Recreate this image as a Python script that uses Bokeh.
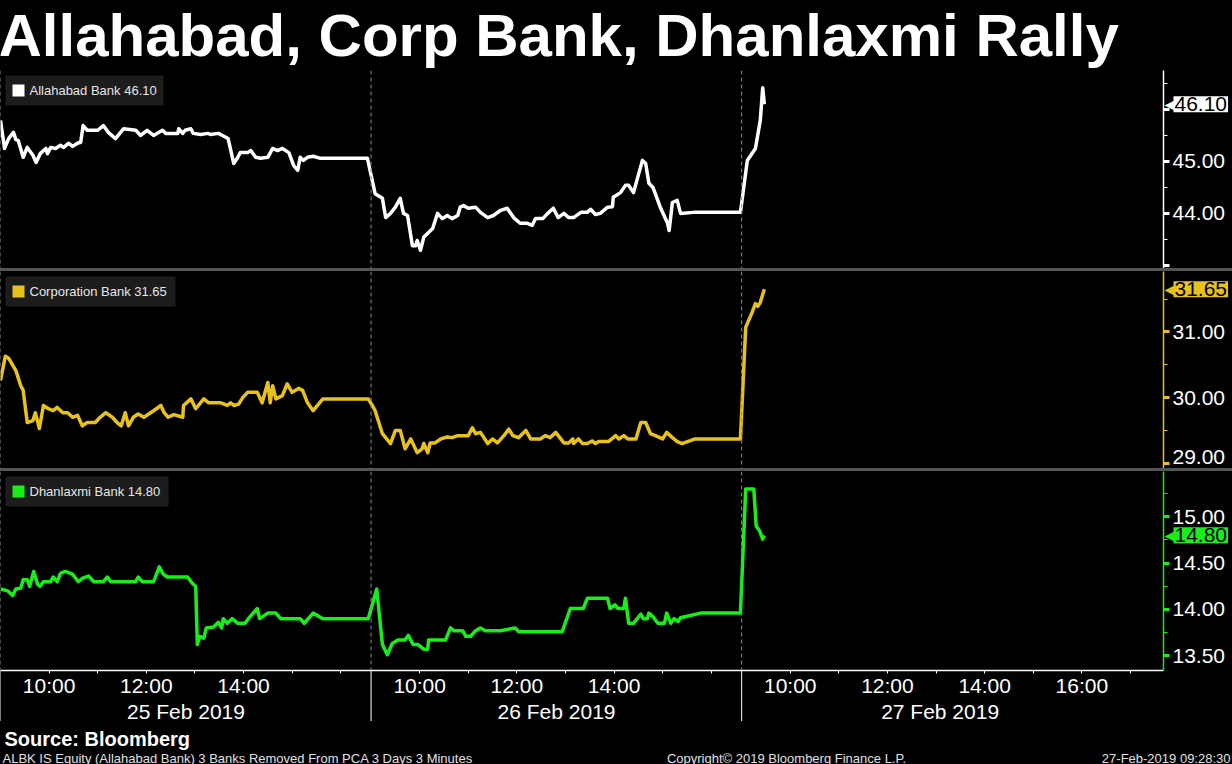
from bokeh.plotting import figure
from bokeh.models import (Range1d, LinearAxis, FixedTicker, PrintfTickFormatter, Span,
                          Label, BoxAnnotation, GridBox, Spacer)
from bokeh.embed import file_html
from bokeh.resources import INLINE

TITLE = "Allahabad, Corp Bank, Dhanlaxmi Rally"
SOURCE = "Source: Bloomberg"
FOOTNOTE = "ALBK IS Equity (Allahabad Bank) 3 Banks Removed From PCA 3 Days 3 Minutes"
COPYRIGHT = "Copyright\u00a9 2019 Bloomberg Finance L.P."
STAMP = "27-Feb-2019 09:28:30"

DAY_NUMS = [25, 26, 27]
DATE_LABELS = ["25 Feb 2019", "26 Feb 2019", "27 Feb 2019"]
DATE_LABEL_AT = ["12:49", "12:49", "13:05"]
LABELED_HOURS = [["10:00", "12:00", "14:00"], ["10:00", "12:00", "14:00"],
                 ["10:00", "12:00", "14:00", "16:00"]]

NAMES = ["Allahabad Bank", "Corporation Bank", "Dhanlaxmi Bank"]
LAST = [46.10, 31.65, 14.80]
COLORS = ["#ffffff", "#e8c21c", "#1aee1a"]

ALBK_TIMES = [
    "25 09:00", "25 09:05", "25 09:10", "25 09:16", "25 09:19", "25 09:22", "25 09:28", "25 09:33",
    "25 09:40", "25 09:44", "25 09:49", "25 09:56", "25 09:58", "25 10:02", "25 10:08", "25 10:14",
    "25 10:18", "25 10:24", "25 10:29", "25 10:35", "25 10:39", "25 10:42", "25 10:47", "25 11:00",
    "25 11:07", "25 11:13", "25 11:22", "25 11:32", "25 11:47", "25 11:53", "25 12:01", "25 12:09",
    "25 12:20", "25 12:24", "25 12:39", "25 12:40", "25 12:45", "25 12:48", "25 12:55", "25 12:58",
    "25 13:07", "25 13:16", "25 13:19", "25 13:29", "25 13:34", "25 13:41", "25 13:48", "25 13:53",
    "25 13:56", "25 14:05", "25 14:09", "25 14:15", "25 14:21", "25 14:30", "25 14:36", "25 14:42",
    "25 14:48", "25 14:56", "25 15:02", "25 15:07", "25 15:10", "25 15:14", "25 15:19", "25 15:26",
    "25 15:35", "25 16:33",
    "26 09:05", "26 09:14", "26 09:18", "26 09:24", "26 09:30", "26 09:36", "26 09:40", "26 09:45",
    "26 09:51", "26 09:55", "26 09:57", "26 10:01", "26 10:05", "26 10:10", "26 10:16", "26 10:22",
    "26 10:28", "26 10:34", "26 10:40", "26 10:47", "26 10:50", "26 10:54", "26 11:00", "26 11:09",
    "26 11:15", "26 11:24", "26 11:31", "26 11:40", "26 11:48", "26 11:56", "26 12:04", "26 12:13",
    "26 12:19", "26 12:23", "26 12:32", "26 12:38", "26 12:45", "26 12:51", "26 12:58", "26 13:04",
    "26 13:10", "26 13:19", "26 13:27", "26 13:31", "26 13:37", "26 13:43", "26 13:52", "26 13:58",
    "26 13:59", "26 14:08", "26 14:14", "26 14:18", "26 14:24", "26 14:35", "26 14:39", "26 14:43",
    "26 14:48", "26 14:57", "26 15:06", "26 15:08", "26 15:12", "26 15:18", "26 15:22", "26 15:38",
    "26 16:36",
    "27 09:07", "27 09:17", "27 09:23", "27 09:26", "27 09:28",
]
ALBK_PRICES = [
    45.79, 45.25, 45.44, 45.56, 45.42, 45.40, 45.08, 45.27,
    45.12, 44.98, 45.15, 45.25, 45.15, 45.27, 45.25, 45.31,
    45.27, 45.35, 45.29, 45.35, 45.37, 45.69, 45.60, 45.60,
    45.69, 45.56, 45.44, 45.63, 45.60, 45.50, 45.60, 45.50,
    45.60, 45.54, 45.54, 45.63, 45.54, 45.60, 45.63, 45.54,
    45.52, 45.54, 45.52, 45.54, 45.50, 45.44, 44.96, 45.08,
    45.17, 45.17, 45.21, 45.08, 45.06, 45.08, 45.25, 45.21,
    45.25, 45.17, 44.92, 44.83, 45.08, 45.02, 45.08, 45.10,
    45.06, 45.06,
    44.38, 44.29, 43.92, 44.00, 44.12, 44.29, 44.00, 43.96,
    43.38, 43.38, 43.48, 43.29, 43.54, 43.62, 43.71, 44.00,
    43.90, 43.96, 43.90, 43.96, 44.12, 44.15, 44.10, 44.12,
    44.02, 43.92, 43.96, 44.06, 44.10, 43.92, 43.81, 43.81,
    43.77, 43.90, 43.90, 44.00, 44.10, 43.92, 44.00, 43.92,
    43.92, 44.02, 44.02, 44.08, 43.98, 44.00, 44.12, 44.13,
    44.31, 44.40, 44.54, 44.54, 44.40, 45.02, 44.96, 44.58,
    44.50, 44.12, 43.81, 43.67, 44.21, 44.25, 44.00, 44.02,
    44.02,
    45.02, 45.25, 45.79, 46.42, 46.10,
]

CORP_TIMES = [
    "25 09:00", "25 09:06", "25 09:10", "25 09:19", "25 09:25", "25 09:28", "25 09:33", "25 09:40",
    "25 09:43", "25 09:48", "25 09:53", "25 09:59", "25 10:05", "25 10:10", "25 10:17", "25 10:23",
    "25 10:29", "25 10:35", "25 10:41", "25 10:47", "25 10:57", "25 11:03", "25 11:10", "25 11:18",
    "25 11:24", "25 11:29", "25 11:34", "25 11:38", "25 11:44", "25 11:50", "25 11:57", "25 12:03",
    "25 12:09", "25 12:18", "25 12:22", "25 12:27", "25 12:34", "25 12:45", "25 12:46", "25 12:55",
    "25 13:01", "25 13:11", "25 13:17", "25 13:32", "25 13:40", "25 13:44", "25 13:48", "25 13:54",
    "25 13:59", "25 14:05", "25 14:17", "25 14:23", "25 14:30", "25 14:33", "25 14:36", "25 14:40",
    "25 14:48", "25 14:54", "25 15:00", "25 15:08", "25 15:13", "25 15:19", "25 15:26", "25 15:38",
    "25 16:34",
    "26 09:03", "26 09:05", "26 09:14", "26 09:24", "26 09:30", "26 09:36", "26 09:42", "26 09:49",
    "26 09:57", "26 10:03", "26 10:05", "26 10:10", "26 10:13", "26 10:19", "26 10:26", "26 10:34",
    "26 10:40", "26 10:47", "26 11:00", "26 11:05", "26 11:09", "26 11:15", "26 11:24", "26 11:30",
    "26 11:36", "26 11:44", "26 11:50", "26 11:55", "26 12:02", "26 12:11", "26 12:17", "26 12:29",
    "26 12:35", "26 12:41", "26 12:48", "26 12:58", "26 13:04", "26 13:09", "26 13:10", "26 13:16",
    "26 13:21", "26 13:27", "26 13:33", "26 13:37", "26 13:41", "26 13:53", "26 14:02", "26 14:06",
    "26 14:12", "26 14:17", "26 14:27", "26 14:33", "26 14:39", "26 14:45", "26 14:51", "26 15:00",
    "26 15:05", "26 15:12", "26 15:18", "26 15:24", "26 15:40", "26 16:36",
    "27 09:05", "27 09:13", "27 09:17", "27 09:20", "27 09:23", "27 09:28",
]
CORP_PRICES = [
    30.26, 30.63, 30.60, 30.41, 30.18, 30.11, 29.62, 29.65,
    29.77, 29.53, 29.88, 29.83, 29.80, 29.85, 29.77, 29.77,
    29.70, 29.73, 29.57, 29.62, 29.62, 29.70, 29.77, 29.70,
    29.62, 29.57, 29.77, 29.57, 29.70, 29.75, 29.70, 29.75,
    29.80, 29.88, 29.77, 29.70, 29.74, 29.70, 29.88, 29.98,
    29.83, 29.98, 29.92, 29.92, 29.88, 29.92, 29.88, 29.90,
    30.00, 30.08, 30.08, 29.92, 30.23, 29.92, 30.18, 29.98,
    30.03, 30.21, 30.08, 30.14, 30.11, 29.92, 29.80, 29.98,
    29.98,
    29.85, 29.80, 29.45, 29.30, 29.50, 29.50, 29.22, 29.37,
    29.16, 29.22, 29.30, 29.16, 29.31, 29.31, 29.37, 29.40,
    29.39, 29.42, 29.42, 29.54, 29.45, 29.47, 29.30, 29.37,
    29.31, 29.42, 29.52, 29.42, 29.39, 29.50, 29.37, 29.37,
    29.42, 29.39, 29.47, 29.31, 29.31, 29.37, 29.30, 29.37,
    29.30, 29.30, 29.34, 29.30, 29.33, 29.33, 29.42, 29.37,
    29.42, 29.37, 29.37, 29.62, 29.62, 29.45, 29.42, 29.37,
    29.47, 29.39, 29.33, 29.30, 29.37, 29.37,
    31.07, 31.30, 31.43, 31.39, 31.45, 31.65,
]

DHAN_TIMES = [
    "25 09:00", "25 09:09", "25 09:15", "25 09:19", "25 09:25", "25 09:28", "25 09:33", "25 09:36",
    "25 09:41", "25 09:46", "25 09:49", "25 09:53", "25 10:02", "25 10:05", "25 10:10", "25 10:14",
    "25 10:20", "25 10:29", "25 10:36", "25 10:42", "25 10:49", "25 10:55", "25 11:07", "25 11:12",
    "25 11:16", "25 11:47", "25 11:50", "25 11:55", "25 12:09", "25 12:14", "25 12:16", "25 12:21",
    "25 12:26", "25 12:51", "25 12:57", "25 13:01", "25 13:03", "25 13:06", "25 13:11", "25 13:14",
    "25 13:23", "25 13:29", "25 13:33", "25 13:35", "25 13:40", "25 13:46", "25 13:53", "25 14:02",
    "25 14:06", "25 14:12", "25 14:17", "25 14:20", "25 14:30", "25 14:40", "25 14:46", "25 15:10",
    "25 15:15", "25 15:20", "25 15:26", "25 15:38", "25 16:34",
    "26 09:07", "26 09:14", "26 09:20", "26 09:26", "26 09:33", "26 09:42", "26 09:46", "26 09:52",
    "26 09:58", "26 10:05", "26 10:10", "26 10:11", "26 10:32", "26 10:38", "26 10:42", "26 10:53",
    "26 10:57", "26 11:03", "26 11:09", "26 11:15", "26 11:21", "26 11:40", "26 11:58", "26 12:02",
    "26 12:56", "26 13:06", "26 13:22", "26 13:27", "26 13:52", "26 13:55", "26 14:01", "26 14:05",
    "26 14:12", "26 14:14", "26 14:18", "26 14:24", "26 14:33", "26 14:36", "26 14:41", "26 14:43",
    "26 14:48", "26 14:54", "26 15:02", "26 15:05", "26 15:10", "26 15:14", "26 15:19", "26 15:22",
    "26 15:47", "26 16:36",
    "27 09:05", "27 09:15", "27 09:18", "27 09:22", "27 09:26", "27 09:28",
]
DHAN_PRICES = [
    14.22, 14.20, 14.15, 14.22, 14.23, 14.32, 14.32, 14.25,
    14.41, 14.27, 14.25, 14.30, 14.30, 14.35, 14.30, 14.39,
    14.41, 14.38, 14.30, 14.34, 14.36, 14.30, 14.30, 14.35,
    14.30, 14.30, 14.35, 14.30, 14.30, 14.41, 14.46, 14.38,
    14.35, 14.35, 14.28, 14.25, 13.62, 13.71, 13.69, 13.80,
    13.81, 13.86, 13.80, 13.90, 13.85, 13.90, 13.85, 13.85,
    13.90, 13.96, 14.01, 13.90, 13.96, 13.96, 13.90, 13.90,
    13.85, 13.90, 13.96, 13.90, 13.90,
    14.22, 13.62, 13.51, 13.63, 13.67, 13.67, 13.72, 13.62,
    13.62, 13.57, 13.57, 13.67, 13.67, 13.80, 13.77, 13.77,
    13.71, 13.71, 13.77, 13.80, 13.77, 13.77, 13.80, 13.76,
    13.76, 14.01, 14.01, 14.12, 14.12, 14.01, 14.05, 14.01,
    14.01, 14.12, 13.85, 13.85, 13.95, 13.90, 13.90, 13.96,
    13.92, 13.85, 13.85, 13.96, 13.85, 13.90, 13.87, 13.91,
    13.96, 13.96,
    15.30, 15.30, 14.90, 14.85, 14.76, 14.80,
]

Y_RANGES = [(42.94, 46.75), (28.92, 31.92), (13.34, 15.49)]
Y_TICKS = [[43, 44, 45, 46], [29, 30, 31], [13.5, 14, 14.5, 15]]
Y_MINOR = [[43.5, 44.5, 45.5, 46.5], [29.5, 30.5, 31.5], [13.75, 14.25, 14.75, 15.25]]
Y_HIDDEN = [[43, 46], [29], []]
Y_EDGE_LABEL = [None, 29, None]   # tick label nudged up to stay inside its panel

# x axis: hours since 09:00 of the first session; each session is shown 09:00-16:37:30
SESSION_START = 9.0
DAY_SPAN = 7.625
X_END = 23.93

# layout (px)
W = 1232
FW = 1163
RB = W - FW
TITLE_H = 70
PANEL_H = [198, 197, 199]
SEP_H = 3
AXIS_H = 51
FOOT_H = 43
LEGEND_RIGHT = [163, 175, 168]
BG = "black"
SEP_COLOR = "#555555"
LABEL_FONT = "Liberation Sans"


def to_hours(stamp):
    d = DAY_NUMS.index(int(stamp[:2]))
    h, m = stamp[3:].split(":")
    return d * DAY_SPAN + int(h) + int(m) / 60.0 - SESSION_START


SEPARATORS = [d * DAY_SPAN for d in range(len(DAY_NUMS))]
xr = Range1d(0, X_END)
xr_wide = Range1d(0, X_END * W / FW)


def bare(**kw):
    p = figure(toolbar_location=None, output_backend="svg", frame_align=False,
               x_axis_location=None, y_axis_location=None,
               background_fill_color=BG, border_fill_color=BG, outline_line_color=None,
               min_border_left=0, min_border_top=0, min_border_bottom=kw.pop("min_border_bottom", 0),
               min_border_right=kw.pop("min_border_right", 0), **kw)
    p.grid.visible = False
    return p


def panel(i, times, prices, extra_bottom=0):
    color = COLORS[i]
    fh = PANEL_H[i]
    lo, hi = Y_RANGES[i]
    yr = Range1d(lo, hi)

    # base layer: frame, series line and the library's right axis
    a = bare(x_range=xr, y_range=yr, frame_width=FW, frame_height=fh, min_border_right=RB)
    for s in SEPARATORS:
        a.add_layout(Span(location=s, dimension="height", line_color="#8c8c8c",
                          line_dash="4 3", line_width=1))
    xs = [to_hours(t) for t in times]
    a.line(xs, prices, line_color=color, line_width=3.5, line_join="round")

    ax = LinearAxis(ticker=FixedTicker(ticks=Y_TICKS[i], minor_ticks=Y_MINOR[i]),
                    formatter=PrintfTickFormatter(format="%.2f"),
                    major_label_overrides={t: "" for t in Y_HIDDEN[i]},
                    axis_line_color=color, axis_line_width=1.5,
                    major_tick_line_color=color, major_tick_line_width=3,
                    major_tick_out=6, major_tick_in=0,
                    minor_tick_line_color=color, minor_tick_line_width=1,
                    minor_tick_out=4, minor_tick_in=0,
                    major_label_text_color="white", major_label_text_font=LABEL_FONT,
                    major_label_text_font_size="21px", major_label_standoff=3)
    a.add_layout(ax, "right")

    # overlay layer (transparent, full width): legend key and last-value tag
    bh = fh + extra_bottom
    byr = Range1d(lo - (hi - lo) * extra_bottom / fh, hi)
    b = bare(x_range=xr_wide, y_range=byr, width=W, height=bh)
    b.background_fill_alpha = 0
    b.border_fill_alpha = 0
    b.add_layout(BoxAnnotation(left=5, right=LEGEND_RIGHT[i], top=bh - 5, bottom=bh - 35,
                               left_units="screen", right_units="screen",
                               top_units="screen", bottom_units="screen",
                               fill_color="#1c1c1c", fill_alpha=1, line_color=None))
    b.add_layout(BoxAnnotation(left=12, right=24, top=bh - 14, bottom=bh - 26,
                               left_units="screen", right_units="screen",
                               top_units="screen", bottom_units="screen",
                               fill_color=color, fill_alpha=1, line_color=None))
    b.add_layout(Label(x=29, y=bh - 20, x_units="screen", y_units="screen",
                       text=f"{NAMES[i]} {LAST[i]:.2f}", text_color="#e6e6e6",
                       text_font=LABEL_FONT, text_font_size="13px",
                       text_baseline="middle", text_align="left"))
    if Y_EDGE_LABEL[i] is not None:
        b.add_layout(Label(x=FW + 9, y=Y_EDGE_LABEL[i], y_offset=6, x_units="screen",
                           text=f"{Y_EDGE_LABEL[i]:.2f}", text_color="white",
                           text_font=LABEL_FONT, text_font_size="21px",
                           text_baseline="middle", text_align="left"))
    b.add_layout(Label(x=FW + 1, y=LAST[i], x_units="screen", text="\u25c0",
                       text_color=color, text_font="DejaVu Sans", text_font_size="17px",
                       text_baseline="middle", text_align="left"))
    b.add_layout(Label(x=FW + 10, y=LAST[i], x_units="screen", text=f"{LAST[i]:.2f}",
                       text_color="black", text_font=LABEL_FONT, text_font_size="21px",
                       text_baseline="middle", text_align="left",
                       background_fill_color=color, padding=1))
    return a, b


tf = bare(x_range=Range1d(0, 1), y_range=Range1d(0, 1), width=W, height=TITLE_H)
tf.add_layout(Label(x=-2, y=TITLE_H / 2, x_units="screen", y_units="screen", text=TITLE,
                    text_color="white", text_font=LABEL_FONT, text_font_style="bold",
                    text_font_size="60px", text_baseline="middle"))

a1, b1 = panel(0, ALBK_TIMES, ALBK_PRICES)
a2, b2 = panel(1, CORP_TIMES, CORP_PRICES)
a3, b3 = panel(2, DHAN_TIMES, DHAN_PRICES, extra_bottom=AXIS_H)

# time-of-day axis and date axis under the last panel
hour_ticks, hour_labels = [], {}
for d in range(len(DAY_NUMS)):
    for h in range(10, 18):
        u = d * DAY_SPAN + h - SESSION_START
        limit = (d + 1) * DAY_SPAN if d < len(DAY_NUMS) - 1 else X_END
        if u < limit:
            hour_ticks.append(u)
            lab = f"{h}:00"
            hour_labels[u] = lab if lab in LABELED_HOURS[d] else ""

tax = LinearAxis(ticker=FixedTicker(ticks=hour_ticks, minor_ticks=[]),
                 major_label_overrides=hour_labels,
                 axis_line_color="white", axis_line_width=1.5,
                 major_tick_line_color="white", major_tick_out=3, major_tick_in=0,
                 minor_tick_line_color=None, minor_tick_out=0, minor_tick_in=0,
                 major_label_text_color="white", major_label_text_font=LABEL_FONT,
                 major_label_text_font_size="21px", major_label_standoff=0)
a3.add_layout(tax, "below")

date_pos = [to_hours(f"{DAY_NUMS[d]} {DATE_LABEL_AT[d]}") for d in range(len(DAY_NUMS))]
dax = LinearAxis(ticker=FixedTicker(ticks=date_pos, minor_ticks=[]),
                 major_label_overrides=dict(zip(date_pos, DATE_LABELS)),
                 axis_line_color=None, major_tick_line_color=None, minor_tick_line_color=None,
                 major_tick_out=0, major_tick_in=0, minor_tick_out=0, minor_tick_in=0,
                 major_label_text_color="white", major_label_text_font=LABEL_FONT,
                 major_label_text_font_size="21px", major_label_standoff=0)
a3.add_layout(dax, "below")

# day separators continuing below the time axis (overlay layer)
lo3 = Y_RANGES[2][0]
b3.segment(x0=SEPARATORS, x1=SEPARATORS, y0=[b3.y_range.start] * len(SEPARATORS),
           y1=[lo3] * len(SEPARATORS), line_color="white", line_width=1)

ff = bare(x_range=Range1d(0, 1), y_range=Range1d(0, 1), width=W, height=FOOT_H)
ff.add_layout(Label(x=4, y=FOOT_H - 13, x_units="screen", y_units="screen", text=SOURCE,
                    text_color="white", text_font=LABEL_FONT, text_font_style="bold",
                    text_font_size="20px", text_baseline="middle"))
ff.add_layout(Label(x=2, y=10, x_units="screen", y_units="screen", text=FOOTNOTE,
                    text_color="#e0e0e0", text_font=LABEL_FONT,
                    text_font_size="13px", text_baseline="middle"))
ff.add_layout(Label(x=786, y=10, x_units="screen", y_units="screen", text=COPYRIGHT,
                    text_color="#e0e0e0", text_font=LABEL_FONT, text_align="center",
                    text_font_size="13px", text_baseline="middle"))
ff.add_layout(Label(x=W - 2, y=10, x_units="screen", y_units="screen", text=STAMP,
                    text_color="#e0e0e0", text_font=LABEL_FONT, text_align="right",
                    text_font_size="13px", text_baseline="middle"))


def sep():
    return Spacer(width=W, height=SEP_H, styles={"background-color": SEP_COLOR})


grid = GridBox(children=[
    (tf, 0, 0),
    (a1, 1, 0), (b1, 1, 0),
    (sep(), 2, 0),
    (a2, 3, 0), (b2, 3, 0),
    (sep(), 4, 0),
    (a3, 5, 0), (b3, 5, 0),
    (ff, 6, 0),
], spacing=0, styles={"background-color": BG})

open("out.html", "w").write(file_html(grid, INLINE))
